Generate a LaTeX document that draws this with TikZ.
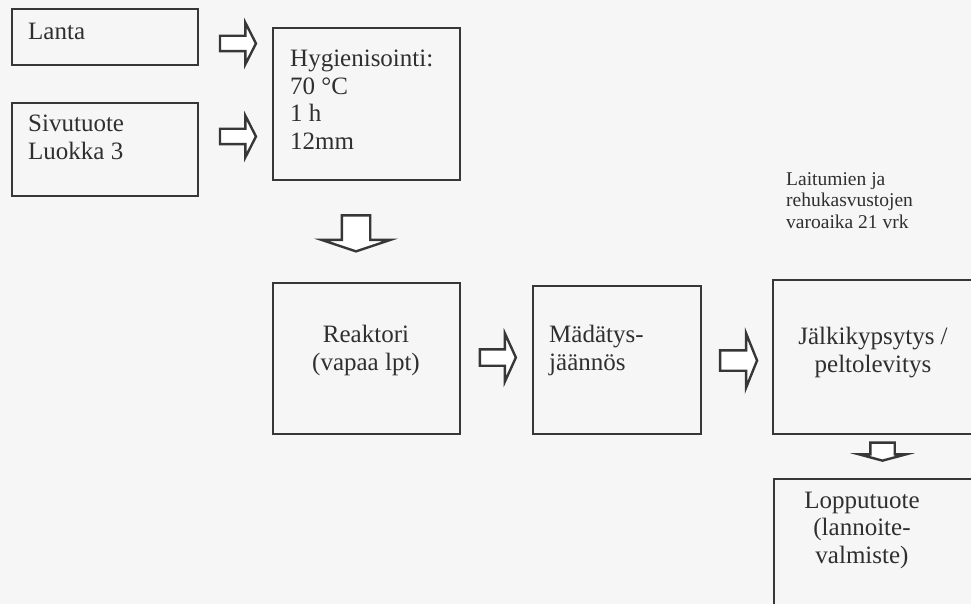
\documentclass[tikz,border=0pt]{standalone}
\usepackage{fontspec}
\setmainfont{Liberation Serif}
\usetikzlibrary{shapes.arrows}

\definecolor{ink}{RGB}{55,55,55}
\definecolor{paper}{RGB}{246,246,246}

\tikzset{
  box/.style={draw=ink,line width=1.7pt,inner sep=0pt,anchor=north west},
  bigtxt/.style={font=\fontsize{25}{27.5}\selectfont,text=ink!85!black,inner sep=0pt},
  smalltxt/.style={font=\fontsize{19.5}{21.5}\selectfont,text=ink!85!black,inner sep=0pt},
  blockarrow/.style={single arrow,draw=ink,line width=2.4pt,fill=white,inner xsep=0pt,single arrow head indent=0pt}
}

\begin{document}
\begin{tikzpicture}[x=1pt,y=-1pt]
\useasboundingbox (0,0) rectangle (971,604);
\clip (0,0) rectangle (971,604);
\fill[paper] (0,0) rectangle (971,604);
\node[box,minimum width=186,minimum height=56] (lanta) at (11,8) {};
\node[box,minimum width=186,minimum height=93] (sivu) at (11,102) {};
\node[box,minimum width=187,minimum height=152] (hyg) at (272,27) {};
\node[box,minimum width=187,minimum height=151] (reak) at (272,282) {};
\node[box,minimum width=168,minimum height=148] (mad) at (532,285) {};
\node[box,minimum width=230,minimum height=154] (jalk) at (772,279) {};
\node[box,minimum width=230,minimum height=160] (lopp) at (773,478) {};
\node[bigtxt,anchor=base west] (lantat) at (28,40) {Lanta};
\node[bigtxt,anchor=base west,align=left] (sivut) at (28,159.5) {Sivutuote\\Luokka 3};
\node[bigtxt,anchor=base west,align=left] (hygt) at (290,149.5) {Hygienisointi:\\70 °C\\1 h\\12mm};
\node[bigtxt,anchor=base,align=center] (reakt) at (366,370) {Reaktori\\(vapaa lpt)};
\node[bigtxt,anchor=base west,align=left] (madt) at (549,370) {Mädätys-\\jäännös};
\node[bigtxt,anchor=base,align=center] (jalkt) at (873,372) {Jälkikypsytys /\\peltolevitys};
\node[bigtxt,anchor=base,align=center] (loppt) at (862,563) {Lopputuote\\(lannoite-\\valmiste)};
\node[smalltxt,anchor=base west,align=left] (varo) at (786,228) {Laitumien ja\\rehukasvustojen\\varoaika 21 vrk};
\node[blockarrow,minimum height=36,inner ysep=6.5pt,single arrow head extend=13,single arrow tip angle=126] (ar1) at (236,43.5) {};
\node[blockarrow,minimum height=36,inner ysep=6.5pt,single arrow head extend=13,single arrow tip angle=126] (ar2) at (236,136.5) {};
\node[blockarrow,minimum height=36,inner ysep=13pt,single arrow head extend=20,single arrow tip angle=143,rotate=-90] (ar3) at (356,231) {};
\node[blockarrow,minimum height=36,inner ysep=7pt,single arrow head extend=16,single arrow tip angle=131] (ar4) at (496,357.5) {};
\node[blockarrow,minimum height=37,inner ysep=9pt,single arrow head extend=17,single arrow tip angle=136] (ar5) at (736.5,360.5) {};
\node[blockarrow,minimum height=18,inner ysep=11pt,single arrow head extend=11,single arrow tip angle=150,rotate=-90] (ar6) at (882.5,450) {};
\end{tikzpicture}
\end{document}
